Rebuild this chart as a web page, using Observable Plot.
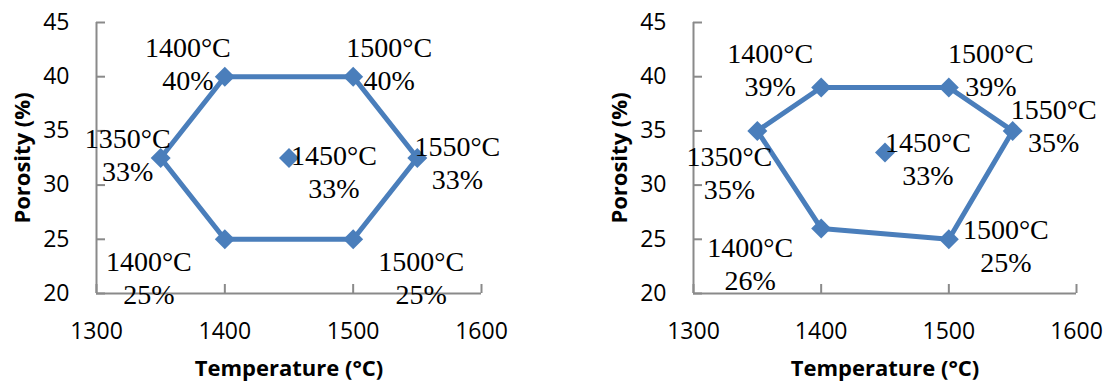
<!DOCTYPE html>
<html><head><meta charset="utf-8">
<script src="https://cdn.jsdelivr.net/npm/d3@7"></script>
<script src="https://cdn.jsdelivr.net/npm/@observablehq/plot@0.6"></script>
<style>
body{margin:0;background:#fff;}
#wrap{display:flex;width:1110px;height:383px;overflow:hidden;}
</style></head><body><div id="wrap"></div>
<script>
// Data
const temperatures = [1350, 1400, 1500, 1550, 1500, 1400, 1450];
const porosityLeft = [32.5, 40, 40, 32.5, 25, 25, 32.5];
const labelPctLeft = [33, 40, 40, 33, 25, 25, 33];
const porosityRight = [35, 39, 39, 35, 25, 26, 33];
const labelPctRight = [35, 39, 39, 35, 25, 26, 33];
const loopOrder = [0, 1, 2, 3, 4, 5, 0];   // connection order of the hexagon
const xTicks = [1300, 1400, 1500, 1600];
const yTicks = [20, 25, 30, 35, 40, 45];
const xLabel = "Temperature (°C)";
const yLabel = "Porosity (%)";

const BLUE = "#4a7ebb", GRAY = "#8a8a8a";

function panel(porosity, pct, offsets, mLeft, mRight) {
  const pts = temperatures.map((t, i) => ({t, p: porosity[i], label: `${t}°C\n${pct[i]}%`}));
  const loop = loopOrder.map(i => pts[i]);
  const labelMarks = pts.map((d, i) => Plot.text([d], {
    x: "t", y: "p", text: "label", lineAnchor: "bottom", lineHeight: 1.18,
    dx: offsets[i][0], dy: offsets[i][1],
    fontFamily: "Liberation Serif, Times New Roman, serif", fontSize: 28, fill: "#000"
  }));
  return Plot.plot({
    width: 555, height: 383,
    marginLeft: mLeft, marginRight: mRight, marginTop: 22, marginBottom: 90,
    x: {domain: [1300, 1600]},
    y: {domain: [20, 45]},
    style: {fontFamily: "Open Sans, sans-serif", fontSize: "23px", color: "#000", background: "#fff", overflow: "visible"},
    marks: [
      Plot.ruleX([1300], {stroke: GRAY, strokeWidth: 2}),
      Plot.ruleY([20], {stroke: GRAY, strokeWidth: 2}),
      Plot.axisY({ticks: yTicks, tickFormat: "d", tickSize: -9, tickPadding: 36, stroke: GRAY, strokeWidth: 2, fill: "#000", label: null, fontSize: 23}),
      Plot.axisX({ticks: xTicks, tickFormat: "d", tickSize: -9, tickPadding: 38, stroke: GRAY, strokeWidth: 2, fill: "#000", label: null, fontSize: 23}),
      Plot.line(loop, {x: "t", y: "p", stroke: BLUE, strokeWidth: 5, curve: "linear"}),
      Plot.dot(pts, {x: "t", y: "p", symbol: "diamond2", r: 9, fill: BLUE, stroke: null}),
      ...labelMarks,
      Plot.text([xLabel], {frameAnchor: "bottom", textAnchor: "middle", lineAnchor: "bottom", dy: 82, text: d => d,
        fontWeight: "bold", fontSize: 22, fontFamily: "Open Sans, sans-serif", fill: "#000"}),
      Plot.text([yLabel], {frameAnchor: "left", textAnchor: "middle", lineAnchor: "middle", rotate: -90, dx: -74, text: d => d,
        fontWeight: "bold", fontSize: 22, fontFamily: "Open Sans, sans-serif", fill: "#000"})
    ]
  });
}

const leftOffsets = [[-33, 23], [-37, 13], [36, 13], [40, 31], [68, 65], [-76, 65], [45, 40]];
const rightOffsets = [[-28, 68], [-51, 8], [42, 8], [41, 21], [57, 33], [-71, 62], [43, 32]];

const wrap = document.getElementById("wrap");
wrap.append(panel(porosityLeft, labelPctLeft, leftOffsets, 96, 74));
wrap.append(panel(porosityRight, labelPctRight, rightOffsets, 138, 34));
</script></body></html>
